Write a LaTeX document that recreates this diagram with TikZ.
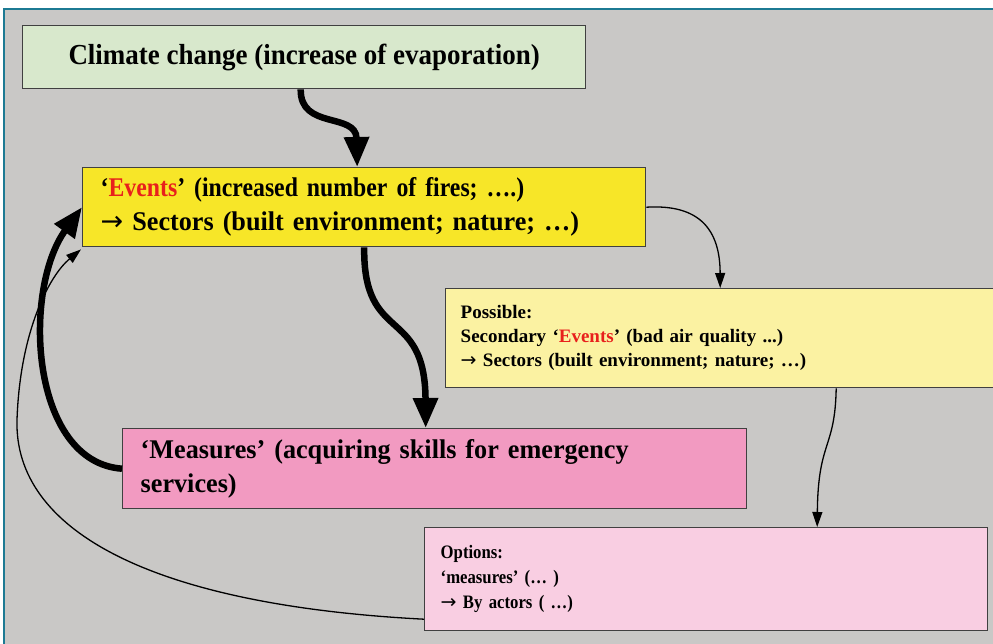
\documentclass[tikz,border=0pt]{standalone}
\usepackage{fontspec}
\setmainfont{Liberation Serif}
\newfontfamily\climfont[FakeStretch=0.93]{Liberation Serif}
\newfontfamily\evfont[FakeStretch=0.88]{Liberation Serif}
\newfontfamily\evfontwide[FakeStretch=0.97]{Liberation Serif}
\newfontfamily\measfont[FakeStretch=0.97]{Liberation Serif}
\newfontfamily\posfont{Liberation Serif}
\newfontfamily\optfont[FakeStretch=0.88]{Liberation Serif}
\newfontfamily\arrfont{DejaVu Sans}
\newcommand{\rarr}{{\arrfont\mdseries →}}
\usetikzlibrary{arrows.meta}
\definecolor{bggray}{HTML}{C9C8C6}
\definecolor{frameteal}{HTML}{1C7A93}
\definecolor{climfill}{HTML}{D8E8CC}
\definecolor{evfill}{HTML}{F7E628}
\definecolor{posfill}{HTML}{FBF2A2}
\definecolor{measfill}{HTML}{F29AC1}
\definecolor{optfill}{HTML}{F9CEE2}
\definecolor{evred}{HTML}{E8201C}
\tikzset{
  box/.style={draw=black!75, line width=1.4pt, rectangle, anchor=north west, inner sep=0pt},
  bigarrow/.style={line width=6.5pt, -{Triangle[length=30pt,width=24pt]}},
  thinarrow/.style={line width=1.3pt, -{Triangle[length=15pt,width=10pt]}}
}
\begin{document}
\begin{tikzpicture}[x=1pt,y=-1pt]
\useasboundingbox (0,0) rectangle (993,644);
\fill[white] (0,0) rectangle (993,644);
\fill[bggray] (4,9) rectangle (993,644);
\draw[frameteal, line width=1.2pt] (4,644) -- (4,9) -- (993,9);

\node[box, fill=climfill, minimum width=563pt, minimum height=63pt, font=\climfont\bfseries\fontsize{29}{32}\selectfont] (climate) at (22,25) {Climate change (increase of evaporation)};

\node[box, fill=evfill, minimum width=563pt, minimum height=79pt, text width=545pt, align=left, font=\evfont\bfseries\fontsize{27}{34}\selectfont] (events) at (82,167) {\hspace*{9pt}‘\textcolor{evred}{Events}’ (increased number of fires; ….)\\\hspace*{9pt}\rarr\ {\evfontwide\bfseries Sectors (built environment; nature; …)}};

\node[box, fill=posfill, minimum width=549pt, minimum height=99pt, text width=533pt, align=left, font=\posfont\bfseries\fontsize{19}{24}\selectfont] (possible) at (445,288) {\hspace*{7pt}Possible:\\\hspace*{7pt}Secondary ‘\textcolor{evred}{Events}’ (bad air quality ...)\\\hspace*{7pt}\rarr\ Sectors (built environment; nature; …)\\[18pt]};

\node[box, fill=measfill, minimum width=624pt, minimum height=80pt, text width=606pt, align=left, font=\measfont\bfseries\fontsize{27}{34}\selectfont] (measures) at (122,428) {\hspace*{9pt}‘Measures’ (acquiring skills for emergency\\\hspace*{9pt}services)};

\node[box, fill=optfill, minimum width=563pt, minimum height=103pt, text width=547pt, align=left, font=\optfont\bfseries\fontsize{19}{25}\selectfont] (options) at (424,527) {\hspace*{8pt}Options:\\\hspace*{8pt}‘measures’ (… )\\\hspace*{8pt}\rarr\ By actors ( …)\\[21pt]};

% connectors
\draw[bigarrow] ([xshift=-3.5pt]climate.south) .. controls (300,130) and (356,112) .. ([xshift=-7pt]events.north);
\draw[bigarrow] (events.south) .. controls (363,345) and (425,305) .. ([xshift=-9pt]measures.north);
\draw[bigarrow] (measures.west) .. controls (30,462) and (22,290) .. (events.west);
\draw[thinarrow] (events.east) .. controls (700,204) and (720,230) .. (possible.north);
\draw[thinarrow] ([xshift=116pt]possible.south) .. controls (835,450) and (818,440) .. ([xshift=111pt]options.north);
\coordinate (loopleft) at (17,420);
\draw[thinarrow] ([yshift=-40pt]options.west) .. controls (150,605) and (14,530) .. (loopleft) .. controls (20,330) and (50,275) .. ([xshift=-1pt,yshift=-2pt]events.south west);
\end{tikzpicture}
\end{document}
